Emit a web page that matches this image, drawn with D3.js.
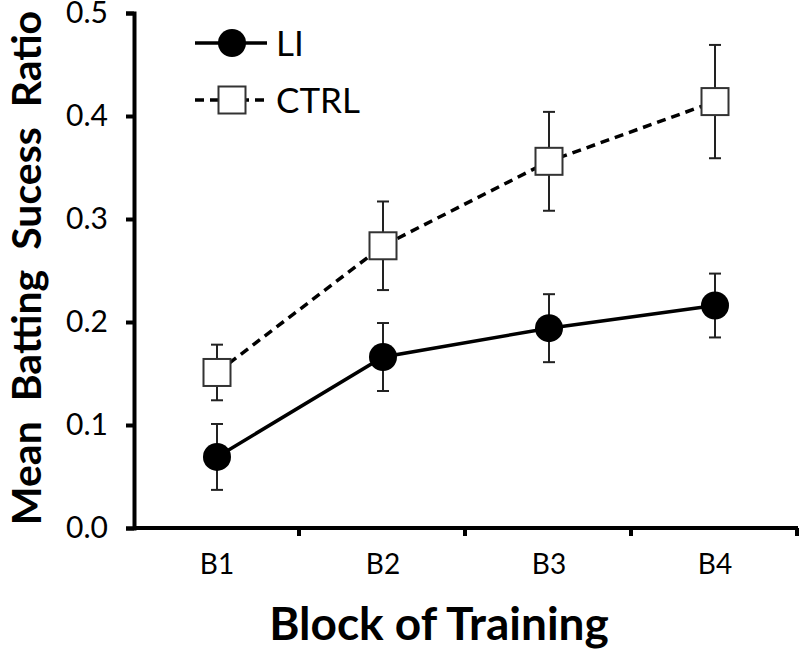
<!DOCTYPE html>
<html>
<head>
<meta charset="utf-8">
<script src="https://cdn.jsdelivr.net/npm/d3@7"></script>
<style>
html,body{margin:0;padding:0;background:#fff;}
svg{display:block;}
text{font-family:Lato,"Open Sans",sans-serif;}
</style>
</head>
<body>
<svg id="chart" width="800" height="658"></svg>
<script>
const categories = ["B1","B2","B3","B4"];
const liValues = [0.069, 0.166, 0.194, 0.216];
const liErrors = [0.032, 0.033, 0.033, 0.031];
const ctrlValues = [0.151, 0.274, 0.356, 0.414];
const ctrlErrors = [0.027, 0.043, 0.048, 0.055];
const yTicks = [0.0, 0.1, 0.2, 0.3, 0.4, 0.5];
const seriesNames = ["LI", "CTRL"];

const svg = d3.select("#chart");
const mLeft = 134, mRight = 798, mTop = 13, mBottom = 528;

const x = d3.scaleBand().domain(categories).range([mLeft, mRight]);
const y = d3.scaleLinear().domain([0, 0.5]).range([mBottom, mTop]);
const cx = c => x(c) + x.bandwidth() / 2;

// axes
const yAxis = svg.append("g").attr("transform", `translate(${mLeft},0)`)
  .call(d3.axisLeft(y).tickValues(yTicks).tickFormat(d3.format(".1f")).tickSize(8).tickPadding(18));
yAxis.select(".domain").attr("stroke", "#000").attr("stroke-width", 4);
yAxis.selectAll(".tick line").attr("stroke", "#000").attr("stroke-width", 4);
yAxis.selectAll(".tick text").attr("font-size", 30).attr("fill", "#000").style("font-family", "Lato");

const xAxis = svg.append("g").attr("transform", `translate(0,${mBottom})`)
  .call(d3.axisBottom(x).tickSize(0).tickPadding(26));
xAxis.select(".domain").remove();
xAxis.append("line").attr("x1", mLeft).attr("x2", mRight).attr("y1", 0).attr("y2", 0)
  .attr("stroke", "#000").attr("stroke-width", 4);
const bounds = categories.map(c => x(c) + x.bandwidth());
xAxis.selectAll(".bt").data(bounds).join("line").attr("class", "bt")
  .attr("x1", d => d - 1).attr("x2", d => d - 1).attr("y1", 0).attr("y2", 8)
  .attr("stroke", "#000").attr("stroke-width", 4);
xAxis.selectAll(".tick text").attr("font-size", 28).attr("fill", "#000").style("font-family", "Lato");

// axis titles
svg.append("text").attr("x", 439).attr("y", 640)
  .attr("text-anchor", "middle").attr("font-size", 46).attr("font-weight", "bold")
  .text("Block of Training");
svg.append("text").attr("transform", `translate(41,268) rotate(-90)`)
  .attr("text-anchor", "middle").attr("font-size", 41).attr("font-weight", "bold")
  .attr("xml:space", "preserve").style("white-space", "pre")
  .text("Mean  Batting  Sucess  Ratio");

const line = d3.line().x(d => cx(d.c)).y(d => y(d.v));
const liData = categories.map((c, i) => ({c, v: liValues[i], e: liErrors[i]}));
const ctrlData = categories.map((c, i) => ({c, v: ctrlValues[i], e: ctrlErrors[i]}));

// lines
svg.append("path").datum(ctrlData).attr("d", line).attr("fill", "none")
  .attr("stroke", "#000").attr("stroke-width", 3.5).attr("stroke-dasharray", "9,6");
svg.append("path").datum(liData).attr("d", line).attr("fill", "none")
  .attr("stroke", "#000").attr("stroke-width", 3.5);

// error bars
function errorBars(data, cls) {
  const g = svg.append("g").attr("class", cls);
  g.selectAll("line.v").data(data).join("line").attr("class", "v")
    .attr("x1", d => cx(d.c)).attr("x2", d => cx(d.c))
    .attr("y1", d => y(d.v - d.e)).attr("y2", d => y(d.v + d.e))
    .attr("stroke", "#222").attr("stroke-width", 2);
  ["t", "b"].forEach(k => {
    g.selectAll("line." + k).data(data).join("line").attr("class", k)
      .attr("x1", d => cx(d.c) - 6).attr("x2", d => cx(d.c) + 6)
      .attr("y1", d => y(k === "t" ? d.v + d.e : d.v - d.e))
      .attr("y2", d => y(k === "t" ? d.v + d.e : d.v - d.e))
      .attr("stroke", "#222").attr("stroke-width", 2);
  });
}
errorBars(ctrlData, "ectrl");
errorBars(liData, "eli");

// markers
svg.selectAll("rect.ctrl").data(ctrlData).join("rect").attr("class", "ctrl")
  .attr("x", d => cx(d.c) - 13.5).attr("y", d => y(d.v) - 13.5)
  .attr("width", 27).attr("height", 27)
  .attr("fill", "#fff").attr("stroke", "#333").attr("stroke-width", 2);
svg.selectAll("circle.li").data(liData).join("circle").attr("class", "li")
  .attr("cx", d => cx(d.c)).attr("cy", d => y(d.v)).attr("r", 14).attr("fill", "#000");

// legend
const lg = svg.append("g");
lg.append("line").attr("x1", 195).attr("x2", 267).attr("y1", 43).attr("y2", 43)
  .attr("stroke", "#000").attr("stroke-width", 3.5);
lg.append("circle").attr("cx", 232).attr("cy", 43).attr("r", 14).attr("fill", "#000");
lg.append("text").attr("x", 276).attr("y", 43).attr("dy", "0.36em").attr("font-size", 35).text(seriesNames[0]);
lg.append("line").attr("x1", 195).attr("x2", 267).attr("y1", 100).attr("y2", 100)
  .attr("stroke", "#000").attr("stroke-width", 3.5).attr("stroke-dasharray", "9,6");
lg.append("rect").attr("x", 218.5).attr("y", 86.5).attr("width", 27).attr("height", 27)
  .attr("fill", "#fff").attr("stroke", "#333").attr("stroke-width", 2);
lg.append("text").attr("x", 276).attr("y", 100).attr("dy", "0.36em").attr("font-size", 35).text(seriesNames[1]);
</script>
</body>
</html>
